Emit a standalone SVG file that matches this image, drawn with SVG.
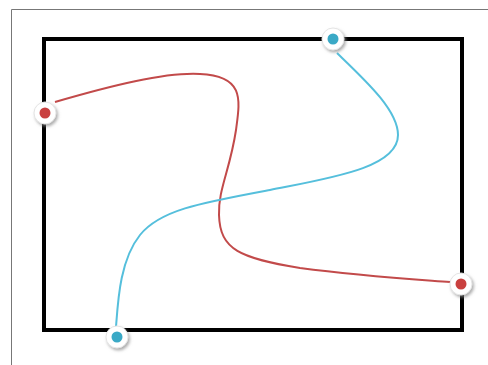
<svg xmlns="http://www.w3.org/2000/svg" width="488" height="365" viewBox="0 0 488 365">
<style>
.frame{fill:none;stroke:#000;stroke-width:4}
.red{fill:none;stroke:#c24a4a;stroke-width:2}
.blue{fill:none;stroke:#55bfdc;stroke-width:2}
.halo{fill:#fff;stroke:#e4e4e4;stroke-width:1;filter:url(#sh)}
.rd{fill:#c9403f}
.bd{fill:#3aa9c6}
</style>
<defs>
<filter id="sh" x="-50%" y="-50%" width="200%" height="200%">
<feDropShadow dx="1.5" dy="2" stdDeviation="1.5" flood-color="#888" flood-opacity="0.7"/>
</filter>
</defs>
<rect width="488" height="365" fill="#fff"/>
<path d="M11.5,365 V9.5 H488" fill="none" stroke="#777" stroke-width="1"/>
<rect class="frame" x="44" y="39" width="418" height="291"/>
<g id="connectors">
<path class="red" d="M55,102 C110,86 165,72 200,74 C245,76 240,100 236,130 C230,170 218,190 219,215 C220,250 240,258 300,268 C360,276 410,279 450,282"/>
<path class="blue" d="M337,53 C365,80 398,110 398,135 C398,168 330,178 270,190 C200,203 160,210 140,235 C120,260 118,300 116,327"/>
</g>
<g id="node-red-left"><circle class="halo" cx="45" cy="113" r="11"/><circle class="rd" cx="45" cy="113" r="5.5"/></g>
<g id="node-blue-top"><circle class="halo" cx="333" cy="39" r="11"/><circle class="bd" cx="333" cy="39" r="5.5"/></g>
<g id="node-blue-bottom"><circle class="halo" cx="117" cy="337" r="11"/><circle class="bd" cx="117" cy="337" r="5.5"/></g>
<g id="node-red-right"><circle class="halo" cx="461" cy="284" r="11"/><circle class="rd" cx="461" cy="284" r="5.5"/></g>
</svg>
